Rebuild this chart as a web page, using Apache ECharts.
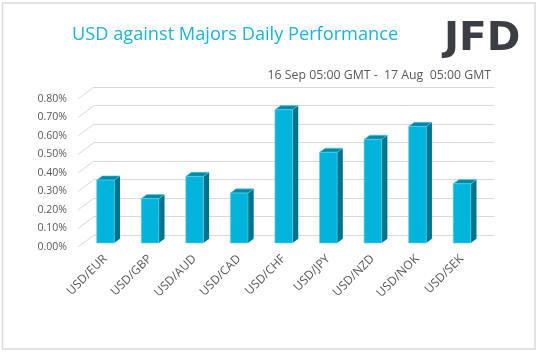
<!DOCTYPE html>
<html>
<head>
<meta charset="utf-8">
<script src="https://cdn.jsdelivr.net/npm/echarts@6/dist/echarts.min.js"></script>
<style>
  html, body { margin: 0; padding: 0; background: #fff; }
  #chart { width: 538px; height: 353px; }
</style>
</head>
<body>
<div id="chart"></div>
<script>
// data
const pairs = ["USD/EUR", "USD/GBP", "USD/AUD", "USD/CAD", "USD/CHF", "USD/JPY", "USD/NZD", "USD/NOK", "USD/SEK"];
const perf = [0.34, 0.24, 0.36, 0.27, 0.72, 0.49, 0.56, 0.63, 0.32];
const yTicks = [0, 0.1, 0.2, 0.3, 0.4, 0.5, 0.6, 0.7, 0.8];

const titleText = "USD against Majors Daily Performance";
const periodText = "16 Sep 05:00 GMT -  17 Aug  05:00 GMT";

const FONT = "Open Sans";
const chart = echarts.init(document.getElementById("chart"));

// 3D column: front face, right side, top
function renderBar(params, api) {
  const top = api.coord([api.value(0), api.value(1)]);
  const base = api.coord([api.value(0), 0]);
  const w = api.size([1, 0])[0] * 0.395;
  const dx = 5.7, dy = -4.2;
  const x0 = top[0] - w / 2, x1 = top[0] + w / 2;
  return {
    type: "group",
    children: [
      {
        type: "polygon",
        shape: { points: [[x1, top[1]], [x1 + dx, top[1] + dy], [x1 + dx, base[1] + dy], [x1, base[1]]] },
        style: { fill: "#00738c" }
      },
      {
        type: "polygon",
        shape: { points: [[x0, top[1]], [x0 + dx, top[1] + dy], [x1 + dx, top[1] + dy], [x1, top[1]]] },
        style: { fill: "#0089a8", stroke: "#5fcbe6", lineWidth: 0.6 }
      },
      {
        type: "rect",
        shape: { x: x0, y: top[1], width: w, height: base[1] - top[1] },
        style: { fill: "#00b4dc", stroke: "#5fd0ea", lineWidth: 0.6 }
      }
    ]
  };
}

// slanted lines joining the labels to the back wall
function renderSlant(params, api) {
  const p = api.coord([0, api.value(0)]);
  return {
    type: "line",
    shape: { x1: p[0], y1: p[1], x2: p[0] - 16, y2: p[1] + 12 },
    style: { stroke: "#d9d9d9", lineWidth: 1 }
  };
}

const option = {
  backgroundColor: "#fff",
  animation: false,
  graphic: [
    {
      type: "rect",
      shape: { x: 2.5, y: 3, width: 532.5, height: 346 },
      style: { fill: null, stroke: "#d9d9d9", lineWidth: 1.5 }
    },
    {
      type: "text",
      left: 72, top: 26,
      style: { text: titleText, fill: "#1ab4de", font: "18.2px 'Open Sans'" }
    },
    {
      type: "text",
      right: 47, top: 69,
      style: { text: periodText, fill: "#595959", font: "12.3px 'Open Sans'" }
    },
    {
      type: "text",
      x: 444, y: 20, scaleX: 1.04,
      style: { text: "JFD", fill: "#3b3f45", font: "bold 39px 'DejaVu Sans'" }
    }
  ],
  grid: [
    { left: 83, right: 54, top: 99, bottom: 106 },
    { left: 94, right: 44, top: 87, bottom: 118 },
    { left: 83.2, right: 53.7, top: 95, bottom: 110 }
  ],
  xAxis: [
    {
      gridIndex: 0, type: "category", data: pairs,
      axisLine: { show: false }, axisTick: { show: false },
      axisLabel: { rotate: 45, margin: 10, color: "#595959", fontFamily: FONT, fontSize: 12 }
    },
    { gridIndex: 1, type: "value", min: 0, max: 1, show: false },
    { gridIndex: 2, type: "category", data: pairs, show: false }
  ],
  yAxis: [
    {
      gridIndex: 0, type: "value", min: 0, max: 0.8, interval: 0.1,
      axisLine: { show: false }, axisTick: { show: false }, splitLine: { show: false },
      axisLabel: { margin: 16, color: "#595959", fontFamily: FONT, fontSize: 10.5,
        formatter: v => v.toFixed(2) + "%" }
    },
    {
      gridIndex: 1, type: "value", min: 0, max: 0.8, interval: 0.1,
      axisLine: { show: false }, axisTick: { show: false }, axisLabel: { show: false },
      splitLine: { show: true, lineStyle: { color: "#d9d9d9", width: 1 } }
    },
    { gridIndex: 2, type: "value", min: 0, max: 0.8, show: false }
  ],
  series: [
    {
      type: "custom", xAxisIndex: 1, yAxisIndex: 1,
      renderItem: renderSlant, data: yTicks.map(v => [v]), silent: true
    },
    {
      type: "custom", xAxisIndex: 2, yAxisIndex: 2,
      renderItem: renderBar,
      data: perf.map((v, i) => [i, v])
    }
  ]
};

chart.setOption(option);
</script>
</body>
</html>
